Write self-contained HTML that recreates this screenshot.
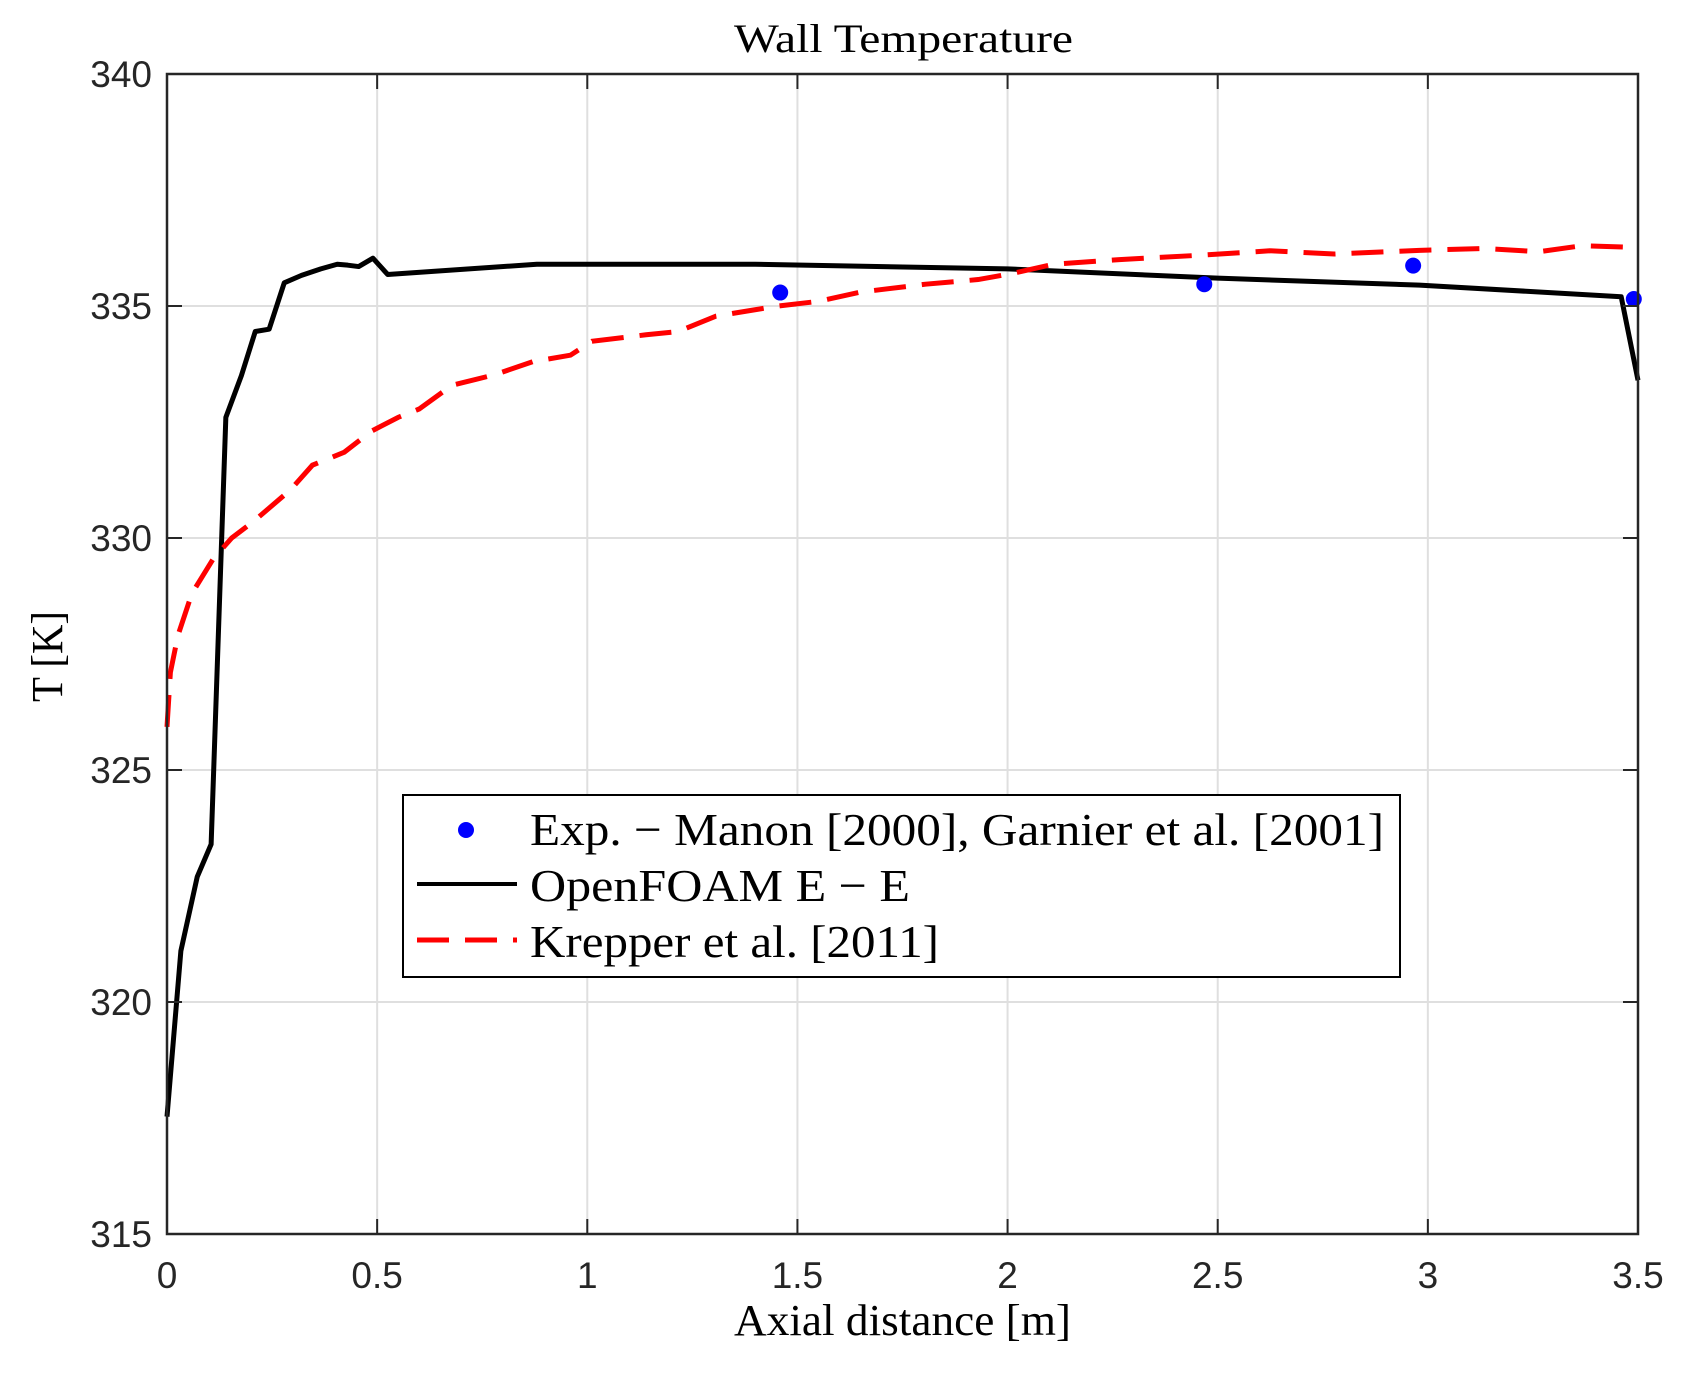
<!DOCTYPE html>
<html><head><meta charset="utf-8"><style>
body{margin:0;background:#fff}
svg text{font-family:"Liberation Sans",sans-serif}
</style></head><body>
<svg id="chart" width="1688" height="1373" xmlns="http://www.w3.org/2000/svg">
<rect width="1688" height="1373" fill="#fff"/>
<g id="grid"></g>
<g id="series"></g>
<g id="axes"></g>
<text x="734" y="52" font-size="40" textLength="339" lengthAdjust="spacingAndGlyphs" style="font-family:'Liberation Serif',serif">Wall Temperature</text>
<text x="734" y="1335" font-size="44" textLength="337" lengthAdjust="spacingAndGlyphs" style="font-family:'Liberation Serif',serif">Axial distance [m]</text>
<text transform="translate(62,702) rotate(-90)" font-size="44" textLength="91" lengthAdjust="spacingAndGlyphs" style="font-family:'Liberation Serif',serif">T [K]</text>
<g>
<rect x="403" y="795" width="997" height="182" fill="#fff" stroke="#000" stroke-width="2"/>
<circle cx="466" cy="830" r="8" fill="#0000ff"/>
<text x="530" y="845" font-size="46" textLength="854" lengthAdjust="spacingAndGlyphs" style="font-family:'Liberation Serif',serif">Exp. − Manon [2000], Garnier et al. [2001]</text>
<line x1="417" y1="884" x2="517" y2="884" stroke="#000" stroke-width="4"/>
<text x="530" y="901" font-size="46" textLength="380" lengthAdjust="spacingAndGlyphs" style="font-family:'Liberation Serif',serif">OpenFOAM E − E</text>
<line x1="417" y1="940" x2="517" y2="940" stroke="#f00" stroke-width="5" stroke-dasharray="32,16"/>
<text x="530" y="957" font-size="46" textLength="409" lengthAdjust="spacingAndGlyphs" style="font-family:'Liberation Serif',serif">Krepper et al. [2011]</text>
</g>
</svg>
<script>
const xTicks=[0,0.5,1,1.5,2,2.5,3,3.5];
const xTickLabels=["0","0.5","1","1.5","2","2.5","3","3.5"];
const yTicks=[315,320,325,330,335,340];
const yTickLabels=["315","320","325","330","335","340"];
const foamX=[0,0.033,0.072,0.105,0.14,0.177,0.21,0.243,0.279,0.32,0.366,0.405,0.43,0.456,0.49,0.525,0.88,1.4,2.0,2.5,2.98,3.46,3.5];
const foamT=[317.53,321.1,322.7,323.4,332.6,333.5,334.45,334.5,335.5,335.66,335.8,335.9,335.88,335.85,336.03,335.68,335.9,335.9,335.8,335.6,335.45,335.2,333.4];
const krepX=[0,0.008,0.026,0.059,0.11,0.154,0.205,0.294,0.346,0.422,0.486,0.55,0.6,0.678,0.78,0.87,0.96,1.011,1.14,1.216,1.306,1.446,1.55,1.65,1.805,1.93,2.01,2.11,2.266,2.47,2.624,2.777,2.98,3.136,3.264,3.367,3.5];
const krepT=[325.93,327.1,327.9,328.8,329.55,330.0,330.35,331.04,331.57,331.85,332.3,332.6,332.78,333.29,333.52,333.8,333.94,334.24,334.38,334.45,334.78,334.99,335.1,335.3,335.47,335.57,335.7,335.9,336.0,336.1,336.19,336.12,336.2,336.24,336.17,336.3,336.26];
const expX=[1.459,2.468,2.965,3.49];
const expT=[335.29,335.47,335.87,335.15];

const L=167,R=1638,T=74,B=1234;
const sx=v=>L+(v-0)/(3.5-0)*(R-L);
const sy=v=>B-(v-315)/(340-315)*(B-T);
const NS="http://www.w3.org/2000/svg";
function mk(tag,attrs,parent){const e=document.createElementNS(NS,tag);for(const k in attrs)e.setAttribute(k,attrs[k]);parent.appendChild(e);return e;}
const grid=document.getElementById('grid'),axes=document.getElementById('axes'),series=document.getElementById('series');
xTicks.forEach((v,i)=>{
  const g=mk('line',{x1:sx(v),x2:sx(v),y1:T,y2:B,stroke:'#dfdfdf','stroke-width':2},grid);
  
  
  mk('line',{x1:sx(v),x2:sx(v),y1:B,y2:B-15,stroke:'#262626','stroke-width':2},axes);
  mk('line',{x1:sx(v),x2:sx(v),y1:T,y2:T+15,stroke:'#262626','stroke-width':2},axes);
  const t=mk('text',{x:sx(v),y:1288,'font-size':37,'text-anchor':'middle',fill:'#262626'},axes);
  t.textContent=xTickLabels[i];
  
  
});
yTicks.forEach((v,i)=>{
  const g=mk('line',{x1:L,x2:R,y1:sy(v),y2:sy(v),stroke:'#dfdfdf','stroke-width':2},grid);
  
  
  mk('line',{x1:L,x2:L+15,y1:sy(v),y2:sy(v),stroke:'#262626','stroke-width':2},axes);
  mk('line',{x1:R,x2:R-15,y1:sy(v),y2:sy(v),stroke:'#262626','stroke-width':2},axes);
  const t=mk('text',{x:152,y:sy(v)+13,'font-size':37,'text-anchor':'end',fill:'#262626'},axes);
  t.textContent=yTickLabels[i];
  
  
});
const box=mk('rect',{x:L,y:T,width:R-L,height:B-T,fill:'none',stroke:'#262626','stroke-width':2.5},axes);


const fp=mk('polyline',{points:foamX.map((x,i)=>sx(x)+','+sy(foamT[i])).join(' '),fill:'none',stroke:'#000','stroke-width':5,'stroke-linejoin':'round'},series);


const kp=mk('polyline',{points:krepX.map((x,i)=>sx(x)+','+sy(krepT[i])).join(' '),fill:'none',stroke:'#f00','stroke-width':5,'stroke-dasharray':'32,16'},series);


expX.forEach((x,i)=>{
  const c=mk('circle',{cx:sx(x),cy:sy(expT[i]),r:8,fill:'#0000ff'},series);
  
  
});
</script>
</body></html>
